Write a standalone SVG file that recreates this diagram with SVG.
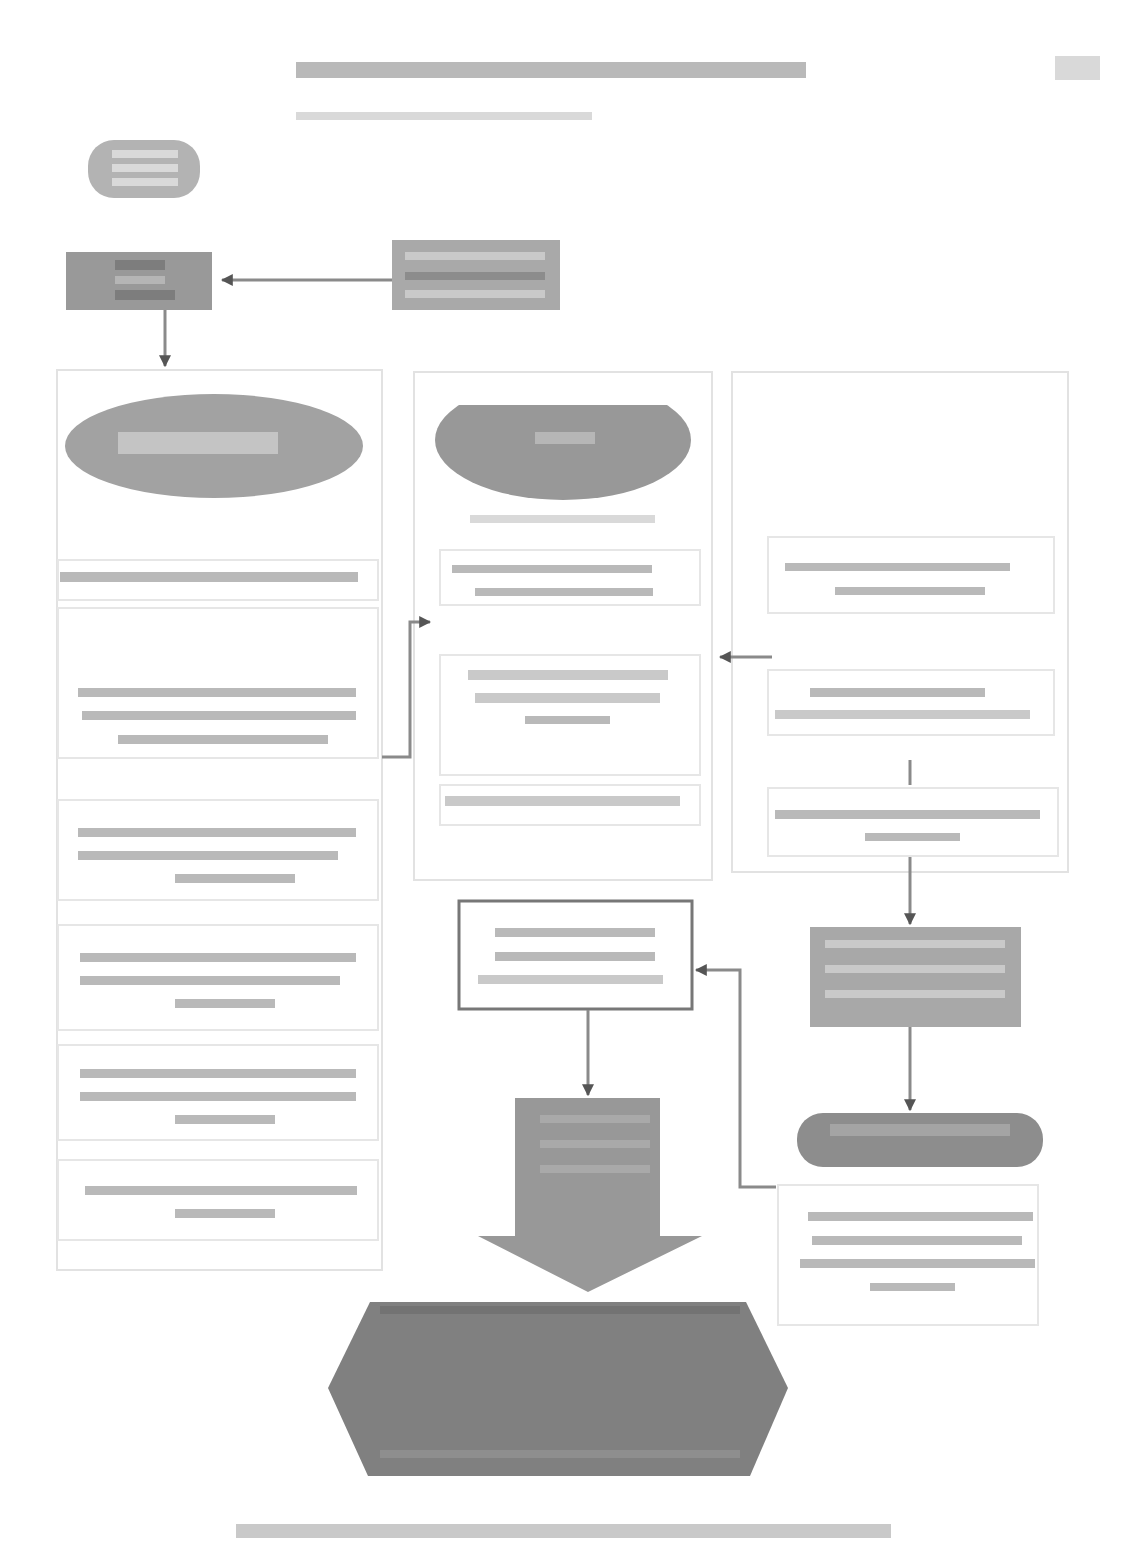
<svg xmlns="http://www.w3.org/2000/svg" width="1128" height="1562" viewBox="0 0 1128 1562">
<style>
.bg{fill:#ffffff}
.panel{fill:none;stroke:#e2e2e2;stroke-width:2}
.box{fill:#ffffff;stroke:#e6e6e6;stroke-width:2}
.bar{fill:#b9b9b9}
.barl{fill:#d9d9d9}
.barw{fill:#c9c9c9}
.dark{fill:#9d9d9d}
.darker{fill:#838383}
.con{fill:none;stroke:#8a8a8a;stroke-width:3}
</style>
<defs>
<marker id="ah" viewBox="0 0 10 10" refX="9" refY="5" markerWidth="4" markerHeight="4" orient="auto">
<path d="M0,0 L10,5 L0,10 z" fill="#555"/>
</marker>
<clipPath id="bowl"><rect x="430" y="405" width="270" height="110"/></clipPath>
</defs>
<rect class="bg" width="1128" height="1562"/>

<g id="header">
<rect x="296" y="62" width="510" height="16" class="bar"/>
<rect x="296" y="112" width="296" height="8" class="barl"/>
<rect x="1055" y="56" width="45" height="24" class="barl"/>
</g>

<g id="n-top">
<rect x="88" y="140" width="112" height="58" rx="26" fill="#b3b3b3"/>
<rect x="112" y="150" width="66" height="8" class="barl"/>
<rect x="112" y="164" width="66" height="8" class="barl"/>
<rect x="112" y="178" width="66" height="8" class="barl"/>
</g>

<g id="n-left-box">
<rect x="66" y="252" width="146" height="58" fill="#999999"/>
<rect x="115" y="260" width="50" height="10" fill="#7d7d7d"/>
<rect x="115" y="276" width="50" height="8" fill="#b5b5b5"/>
<rect x="115" y="290" width="60" height="10" fill="#7d7d7d"/>
</g>

<g id="n-right-box">
<rect x="392" y="240" width="168" height="70" fill="#a9a9a9"/>
<rect x="405" y="252" width="140" height="8" class="barw"/>
<rect x="405" y="272" width="140" height="8" fill="#8c8c8c"/>
<rect x="405" y="290" width="140" height="8" class="barw"/>
</g>

<g id="panel-left">
<rect x="57" y="370" width="325" height="900" class="panel"/>
<ellipse cx="214" cy="446" rx="149" ry="52" fill="#a2a2a2"/>
<rect x="118" y="432" width="160" height="22" fill="#c4c4c4"/>
</g>

<g id="n-l1">
<rect x="58" y="560" width="320" height="40" class="box"/>
<rect x="60" y="572" width="298" height="10" class="bar"/>
</g>
<g id="n-l2">
<rect x="58" y="608" width="320" height="150" class="box"/>
<rect x="78" y="688" width="278" height="9" class="bar"/>
<rect x="82" y="711" width="274" height="9" class="bar"/>
<rect x="118" y="735" width="210" height="9" class="bar"/>
</g>
<g id="n-l3">
<rect x="58" y="800" width="320" height="100" class="box"/>
<rect x="78" y="828" width="278" height="9" class="bar"/>
<rect x="78" y="851" width="260" height="9" class="bar"/>
<rect x="175" y="874" width="120" height="9" class="bar"/>
</g>
<g id="n-l4">
<rect x="58" y="925" width="320" height="105" class="box"/>
<rect x="80" y="953" width="276" height="9" class="bar"/>
<rect x="80" y="976" width="260" height="9" class="bar"/>
<rect x="175" y="999" width="100" height="9" class="bar"/>
</g>
<g id="n-l5">
<rect x="58" y="1045" width="320" height="95" class="box"/>
<rect x="80" y="1069" width="276" height="9" class="bar"/>
<rect x="80" y="1092" width="276" height="9" class="bar"/>
<rect x="175" y="1115" width="100" height="9" class="bar"/>
</g>
<g id="n-l6">
<rect x="58" y="1160" width="320" height="80" class="box"/>
<rect x="85" y="1186" width="272" height="9" class="bar"/>
<rect x="175" y="1209" width="100" height="9" class="bar"/>
</g>

<g id="panel-mid">
<rect x="414" y="372" width="298" height="508" class="panel"/>
<ellipse cx="563" cy="440" rx="128" ry="60" fill="#989898" clip-path="url(#bowl)"/>
<rect x="535" y="432" width="60" height="12" fill="#b6b6b6"/>
<rect x="470" y="515" width="185" height="8" class="barl"/>
</g>
<g id="n-m1">
<rect x="440" y="550" width="260" height="55" class="box"/>
<rect x="452" y="565" width="200" height="8" class="bar"/>
<rect x="475" y="588" width="178" height="8" class="bar"/>
</g>
<g id="n-m2">
<rect x="440" y="655" width="260" height="120" class="box"/>
<rect x="468" y="670" width="200" height="10" class="barw"/>
<rect x="475" y="693" width="185" height="10" class="barw"/>
<rect x="525" y="716" width="85" height="8" class="bar"/>
</g>
<g id="n-m3">
<rect x="440" y="785" width="260" height="40" class="box"/>
<rect x="445" y="796" width="235" height="10" class="barw"/>
</g>

<g id="n-m4">
<rect x="459" y="901" width="233" height="108" fill="#ffffff" stroke="#777" stroke-width="3"/>
<rect x="495" y="928" width="160" height="9" class="bar"/>
<rect x="495" y="952" width="160" height="9" class="bar"/>
<rect x="478" y="975" width="185" height="9" class="barw"/>
</g>

<g id="n-m5">
<path d="M515,1098 H660 V1236 H702 L588,1292 L478,1236 H515 Z" fill="#989898"/>
<rect x="540" y="1115" width="110" height="8" fill="#a9a9a9"/>
<rect x="540" y="1140" width="110" height="8" fill="#a9a9a9"/>
<rect x="540" y="1165" width="110" height="8" fill="#a9a9a9"/>
</g>

<g id="n-bottom">
<path d="M370,1302 H746 L788,1388 L750,1476 H368 L328,1388 Z" fill="#808080"/>
<rect x="380" y="1306" width="360" height="8" fill="#737373"/>
<rect x="380" y="1450" width="360" height="8" fill="#8e8e8e"/>
</g>

<g id="panel-right">
<rect x="732" y="372" width="336" height="500" class="panel"/>
</g>
<g id="n-r1">
<rect x="768" y="537" width="286" height="76" class="box"/>
<rect x="785" y="563" width="225" height="8" class="bar"/>
<rect x="835" y="587" width="150" height="8" class="bar"/>
</g>
<g id="n-r2">
<rect x="768" y="670" width="286" height="65" class="box"/>
<rect x="810" y="688" width="175" height="9" class="bar"/>
<rect x="775" y="710" width="255" height="9" class="barw"/>
</g>
<g id="n-r3">
<rect x="768" y="788" width="290" height="68" class="box"/>
<rect x="775" y="810" width="265" height="9" class="bar"/>
<rect x="865" y="833" width="95" height="8" class="bar"/>
</g>
<g id="n-r4">
<rect x="810" y="927" width="211" height="100" fill="#a8a8a8"/>
<rect x="825" y="940" width="180" height="8" class="barw"/>
<rect x="825" y="965" width="180" height="8" class="barw"/>
<rect x="825" y="990" width="180" height="8" class="barw"/>
</g>
<g id="n-r5">
<rect x="797" y="1113" width="246" height="54" rx="26" fill="#8d8d8d"/>
<rect x="830" y="1124" width="180" height="12" fill="#a4a4a4"/>
</g>
<g id="n-r6">
<rect x="778" y="1185" width="260" height="140" class="box"/>
<rect x="808" y="1212" width="225" height="9" class="bar"/>
<rect x="812" y="1236" width="210" height="9" class="bar"/>
<rect x="800" y="1259" width="235" height="9" class="bar"/>
<rect x="870" y="1283" width="85" height="8" class="bar"/>
</g>

<g id="caption">
<rect x="236" y="1524" width="655" height="14" class="barw"/>
</g>

<g id="connectors">
<path class="con" d="M392,280 H222" marker-end="url(#ah)"/>
<path class="con" d="M165,310 V366" marker-end="url(#ah)"/>
<path class="con" d="M382,757 H410 V622 H430" marker-end="url(#ah)"/>
<path class="con" d="M772,657 H720" marker-end="url(#ah)"/>
<path class="con" d="M910,760 V785" stroke="#c8c8c8"/>
<path class="con" d="M910,857 V924" marker-end="url(#ah)"/>
<path class="con" d="M910,1027 V1110" marker-end="url(#ah)"/>
<path class="con" d="M588,1010 V1095" marker-end="url(#ah)"/>
<path class="con" d="M776,1187 H740 V970 H696" marker-end="url(#ah)"/>
</g>
</svg>
